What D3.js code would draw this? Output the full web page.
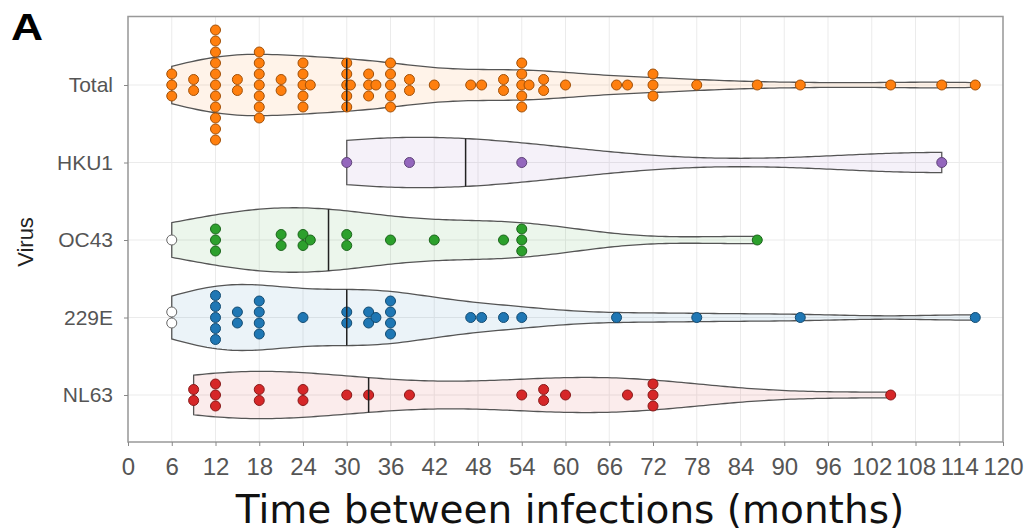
<!DOCTYPE html>
<html>
<head>
<meta charset="utf-8">
<script src="https://cdn.jsdelivr.net/npm/d3@7"></script>
<style>
body { margin: 0; background: #fff; }
</style>
</head>
<body>
<div id="chart"></div>
<script>
// categories and values (months between infections)
var viruses = ["Total", "HKU1", "OC43", "229E", "NL63"];

var totalValues = [6, 6, 6, 9, 9,
    12, 12, 12, 12, 12, 12, 12, 12, 12, 12, 12,
    15, 15, 18, 18, 18, 18, 18, 18, 18, 21, 21,
    24, 24, 24, 24, 24, 25, 30, 30, 30, 30, 30, 30.5,
    33, 33, 33, 34, 36, 36, 36, 36, 36, 38.6, 38.6, 42, 47, 48.5,
    51.5, 51.5, 54, 54, 54, 54, 54, 55, 57, 57, 60, 67, 68.5,
    72, 72, 72, 78, 86.3, 92.2, 104.6, 111.6, 116.2];
var hku1Values = [30, 38.6, 54, 111.6];
var oc43Values = [6, 12, 12, 12, 21, 21, 24, 24, 25, 30, 30, 36, 42, 51.5, 54, 54, 54, 86.3];
var e229Values = [6, 6, 12, 12, 12, 12, 12, 15, 15, 18, 18, 18, 18, 24, 30, 30,
    33, 33, 34, 36, 36, 36, 36, 47, 48.5, 51.5, 54, 67, 78, 92.2, 116.2];
var nl63Values = [9, 9, 12, 12, 12, 18, 18, 24, 24, 30, 33, 38.6, 54, 57, 57, 60,
    68.5, 72, 72, 72, 104.6];

// points drawn as open (white) circles
var oc43Open = [6];
var e229Open = [6];

var xTicks = d3.range(0, 121, 6);
var bandwidths = [8, 16, 10, 8, 12];
var colors = ["#ff7f0e", "#9467bd", "#2ca02c", "#1f77b4", "#d62728"];

var series = [totalValues, hku1Values, oc43Values, e229Values, nl63Values];
var openSets = [[], [], oc43Open, e229Open, []];

var width = 1024, height = 532;
var margin = { top: 16.5, right: 21, bottom: 90, left: 128 };

var svg = d3.select("#chart").append("svg")
    .attr("width", width)
    .attr("height", height);

var x = d3.scaleLinear().domain([0, 120]).range([margin.left, width - margin.right]);
var y = d3.scalePoint().domain(viruses).range([85, 395]);
var plotBottom = height - margin.bottom;

// grid
svg.append("g").selectAll("line.vgrid")
    .data(xTicks)
    .enter().append("line")
    .attr("x1", d => x(d)).attr("x2", d => x(d))
    .attr("y1", margin.top).attr("y2", plotBottom)
    .attr("stroke", "#ebebeb").attr("stroke-width", 1);
svg.append("g").selectAll("line.hgrid")
    .data(viruses)
    .enter().append("line")
    .attr("x1", margin.left).attr("x2", width - margin.right)
    .attr("y1", d => y(d)).attr("y2", d => y(d))
    .attr("stroke", "#ebebeb").attr("stroke-width", 1);

// kernel density
function kde(values, h) {
    var lo = d3.min(values), hi = d3.max(values), n = 160;
    return d3.range(n + 1).map(function (i) {
        var t = lo + (hi - lo) * i / n;
        var s = d3.sum(values, function (v) {
            var u = (t - v) / h;
            return Math.exp(-0.5 * u * u);
        });
        return [t, s / (values.length * h * Math.sqrt(2 * Math.PI))];
    });
}

var densities = series.map((vals, i) => kde(vals, bandwidths[i]));
var maxDensity = d3.max(densities, d => d3.max(d, p => p[1]));
var w = d3.scaleLinear().domain([0, maxDensity]).range([0, 33]);

function densityAt(dens, v) {
    var i = d3.bisector(d => d[0]).left(dens, v);
    if (i <= 0) return dens[0][1];
    if (i >= dens.length) return dens[dens.length - 1][1];
    var a = dens[i - 1], b = dens[i];
    return a[1] + (b[1] - a[1]) * (v - a[0]) / (b[0] - a[0]);
}

var dotR = 5, dotStep = 11;

viruses.forEach(function (name, i) {
    var cy = y(name);
    var dens = densities[i];
    var g = svg.append("g").attr("class", "violin");

    var area = d3.area()
        .x(d => x(d[0]))
        .y0(d => cy + w(d[1]))
        .y1(d => cy - w(d[1]));

    g.append("path")
        .datum(dens)
        .attr("d", area)
        .attr("fill", colors[i])
        .attr("fill-opacity", 0.09)
        .attr("stroke", "#555")
        .attr("stroke-width", 1.3);

    // stack equal values
    var dots = [];
    d3.group(series[i], v => v).forEach(function (arr, v) {
        arr.forEach(function (_, k) {
            dots.push({ v: v, off: (k - (arr.length - 1) / 2) * dotStep,
                open: openSets[i].indexOf(v) >= 0 });
        });
    });

    g.selectAll("circle")
        .data(dots)
        .enter().append("circle")
        .attr("cx", d => x(d.v))
        .attr("cy", d => cy + d.off)
        .attr("r", dotR)
        .attr("fill", d => d.open ? "#fff" : colors[i])
        .attr("stroke", d => d.open ? "#666" : d3.color(colors[i]).darker(1.3))
        .attr("stroke-width", 1);

    var med = d3.median(series[i]);
    var mw = w(densityAt(dens, med));
    g.append("line")
        .attr("x1", x(med)).attr("x2", x(med))
        .attr("y1", cy - mw).attr("y2", cy + mw)
        .attr("stroke", "#222")
        .attr("stroke-width", 1.5);
});

// frame
svg.append("rect")
    .attr("x", margin.left).attr("y", margin.top)
    .attr("width", x(120) - x(0)).attr("height", plotBottom - margin.top)
    .attr("fill", "none")
    .attr("stroke", "#999")
    .attr("stroke-width", 1.5);

// axes
var xAxis = svg.append("g")
    .attr("transform", "translate(0," + plotBottom + ")")
    .call(d3.axisBottom(x).tickValues(xTicks).tickSize(4).tickPadding(12));
xAxis.select(".domain").remove();
xAxis.selectAll("line").attr("stroke", "#888");
xAxis.selectAll("text")
    .attr("fill", "#555")
    .style("font-family", "'Liberation Sans', Arial, sans-serif")
    .style("font-size", "24px");

var yAxis = svg.append("g")
    .attr("transform", "translate(" + margin.left + ",0)")
    .call(d3.axisLeft(y).tickSize(4).tickPadding(11));
yAxis.select(".domain").remove();
yAxis.selectAll("line").attr("stroke", "#888");
yAxis.selectAll("text")
    .attr("fill", "#555")
    .style("font-family", "'Liberation Sans', Arial, sans-serif")
    .style("font-size", "21px");

// labels
svg.append("text")
    .attr("transform", "translate(33,242)rotate(-90)")
    .attr("text-anchor", "middle")
    .style("font-family", "'Liberation Sans', Arial, sans-serif")
    .style("font-size", "22px")
    .attr("fill", "#222")
    .text("Virus");

svg.append("text")
    .attr("x", 570)
    .attr("y", 523)
    .attr("text-anchor", "middle")
    .style("font-family", "'DejaVu Sans', sans-serif")
    .style("font-size", "39px")
    .attr("fill", "#111")
    .text("Time between infections (months)");

svg.append("text")
    .attr("transform", "translate(11,40)scale(1.2,1)")
    .style("font-family", "'Liberation Sans', Arial, sans-serif")
    .style("font-weight", "bold")
    .style("font-size", "37px")
    .attr("fill", "#000")
    .text("A");
</script>
</body>
</html>
